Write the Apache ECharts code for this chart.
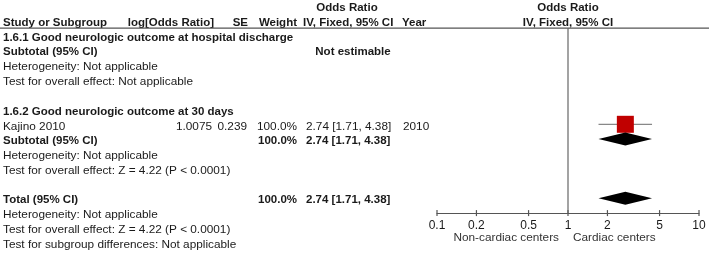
<!DOCTYPE html>
<html>
<head>
<meta charset="utf-8">
<script src="https://cdn.jsdelivr.net/npm/echarts@6/dist/echarts.min.js"></script>
<style>
html, body { margin: 0; padding: 0; background: #fff; }
#main { width: 709px; height: 253px; }
</style>
</head>
<body>
<div id="main"></div>
<script>
// study rows
var studyNames = ['Kajino 2010'];
var studyLogOR = ['1.0075'];
var studySE = ['0.239'];
var studyWeight = ['100.0%'];
var studyYear = ['2010'];
var studyOR = [2.74];
var studyLow = [1.71];
var studyHigh = [4.38];
var studyRow = [6];

// pooled rows (subtotal 1.6.2 and total)
var pooledOR = [2.74, 2.74];
var pooledLow = [1.71, 1.71];
var pooledHigh = [4.38, 4.38];
var pooledRow = [7, 11];

var tickValues = [0.1, 0.2, 0.5, 1, 2, 5, 10];
var favoursLeft = 'Non-cardiac centers';
var favoursRight = 'Cardiac centers';

// text lines of the table: [row, text, bold]
var labelLines = [
    [0, '1.6.1 Good neurologic outcome at hospital discharge', true],
    [1, 'Subtotal (95% CI)', true],
    [2, 'Heterogeneity: Not applicable', false],
    [3, 'Test for overall effect: Not applicable', false],
    [5, '1.6.2 Good neurologic outcome at 30 days', true],
    [6, 'Kajino 2010', false],
    [7, 'Subtotal (95% CI)', true],
    [8, 'Heterogeneity: Not applicable', false],
    [9, 'Test for overall effect: Z = 4.22 (P < 0.0001)', false],
    [11, 'Total (95% CI)', true],
    [12, 'Heterogeneity: Not applicable', false],
    [13, 'Test for overall effect: Z = 4.22 (P < 0.0001)', false],
    [14, 'Test for subgroup differences: Not applicable', false]
];

function fmtCI(o, l, h) {
    return o.toFixed(2) + ' [' + l.toFixed(2) + ', ' + h.toFixed(2) + ']';
}

var myChart = echarts.init(document.getElementById('main'));

var studyData = [];
for (var i = 0; i < studyOR.length; i++) {
    studyData.push([studyOR[i], studyRow[i], studyLow[i], studyHigh[i]]);
}
var pooledData = [];
for (var j = 0; j < pooledOR.length; j++) {
    pooledData.push([pooledOR[j], pooledRow[j], pooledLow[j], pooledHigh[j]]);
}
var tickData = tickValues.map(function (v) { return [v, 12]; });

var axisColor = '#555';
var textColor = '#1a1a1a';
var FONT = 'Liberation Sans, Arial, sans-serif';
var BOLD_SIZE = 11.5;
var REG_SIZE = 11.8;

myChart.setOption({
    animation: false,
    grid: { left: 437, right: 10, top: 28.1, bottom: 39.9 },
    xAxis: {
        type: 'log',
        logBase: 10,
        min: 0.1,
        max: 10,
        axisLine: { onZero: false, lineStyle: { color: axisColor, width: 1.2 } },
        axisTick: { show: false },
        axisLabel: {
            customValues: tickValues,
            color: textColor,
            fontSize: 12,
            fontFamily: FONT,
            margin: 7,
            formatter: function (v) { return String(+(+v).toPrecision(3)); }
        },
        splitLine: { show: false },
        minorTick: { show: false }
    },
    yAxis: {
        type: 'value',
        min: -0.5,
        max: 12,
        inverse: true,
        show: false
    },
    series: [{
        // line of no effect
        type: 'line',
        data: [[1, -0.5], [1, 12]],
        symbol: 'none',
        lineStyle: { color: '#666', width: 1.2 },
        silent: true
    }, {
        // ticks crossing the axis line
        type: 'custom',
        data: tickData,
        silent: true,
        renderItem: function (params, api) {
            var p = api.coord([api.value(0), api.value(1)]);
            return {
                type: 'line',
                shape: { x1: p[0], y1: p[1] - 3, x2: p[0], y2: p[1] + 3 },
                style: { stroke: axisColor, lineWidth: 1.2 }
            };
        }
    }, {
        type: 'custom',
        data: studyData,
        encode: { x: [0, 2, 3], y: 1 },
        renderItem: function (params, api) {
            var c = api.coord([api.value(0), api.value(1)]);
            var lo = api.coord([api.value(2), api.value(1)]);
            var hi = api.coord([api.value(3), api.value(1)]);
            var s = 17;
            return {
                type: 'group',
                children: [{
                    type: 'line',
                    shape: { x1: lo[0], y1: c[1], x2: hi[0], y2: c[1] },
                    style: { stroke: '#888', lineWidth: 1.3 }
                }, {
                    type: 'rect',
                    shape: { x: c[0] - s / 2, y: c[1] - s / 2, width: s, height: s },
                    style: { fill: '#c00000' }
                }]
            };
        }
    }, {
        type: 'custom',
        data: pooledData,
        encode: { x: [0, 2, 3], y: 1 },
        renderItem: function (params, api) {
            var c = api.coord([api.value(0), api.value(1)]);
            var lo = api.coord([api.value(2), api.value(1)]);
            var hi = api.coord([api.value(3), api.value(1)]);
            var h = 6.5;
            return {
                type: 'polygon',
                shape: { points: [[lo[0], c[1]], [c[0], c[1] - h], [hi[0], c[1]], [c[0], c[1] + h]] },
                style: { fill: '#000' }
            };
        }
    }]
});

// table text, placed on the rows of the y scale
function rowY(r) { return myChart.convertToPixel({ yAxisIndex: 0 }, r); }
function txt(x, r, s, bold, align) {
    return {
        type: 'text', x: x, y: rowY(r) + 2, silent: true,
        style: {
            text: s, fill: textColor, textAlign: align || 'left', textVerticalAlign: 'middle',
            font: bold ? ('bold ' + BOLD_SIZE + 'px ' + FONT) : (REG_SIZE + 'px ' + FONT)
        }
    };
}

var els = [];
// headers
els.push(txt(3, -1, 'Study or Subgroup', true));
els.push(txt(214, -1, 'log[Odds Ratio]', true, 'right'));
els.push(txt(248, -1, 'SE', true, 'right'));
els.push(txt(297, -1, 'Weight', true, 'right'));
els.push(txt(347, -2, 'Odds Ratio', true, 'center'));
els.push(txt(303, -1, 'IV, Fixed, 95% CI', true));
els.push(txt(402, -1, 'Year', true));
els.push(txt(568, -2, 'Odds Ratio', true, 'center'));
els.push(txt(568, -1, 'IV, Fixed, 95% CI', true, 'center'));

labelLines.forEach(function (l) { els.push(txt(3, l[0], l[1], l[2])); });

els.push(txt(353, 1, 'Not estimable', true, 'center'));
for (var k = 0; k < studyOR.length; k++) {
    els.push(txt(212, studyRow[k], studyLogOR[k], false, 'right'));
    els.push(txt(247, studyRow[k], studySE[k], false, 'right'));
    els.push(txt(297, studyRow[k], studyWeight[k], false, 'right'));
    els.push(txt(306, studyRow[k], fmtCI(studyOR[k], studyLow[k], studyHigh[k]), false));
    els.push(txt(403, studyRow[k], studyYear[k], false));
}
for (var m = 0; m < pooledOR.length; m++) {
    els.push(txt(297, pooledRow[m], '100.0%', true, 'right'));
    els.push(txt(306, pooledRow[m], fmtCI(pooledOR[m], pooledLow[m], pooledHigh[m]), true));
}

// header rule
var yTop = rowY(-0.5);
els.push({ type: 'line', silent: true, shape: { x1: 0, y1: yTop, x2: 709, y2: yTop }, style: { stroke: axisColor, lineWidth: 1.2 } });

// favours labels either side of the line of no effect
var x1 = myChart.convertToPixel({ xAxisIndex: 0 }, 1);
els.push({ type: 'text', x: x1 - 9, y: 238, silent: true, style: { text: favoursLeft, fill: '#333', textAlign: 'right', textVerticalAlign: 'middle', font: REG_SIZE + 'px ' + FONT } });
els.push({ type: 'text', x: x1 + 5, y: 238, silent: true, style: { text: favoursRight, fill: '#333', textAlign: 'left', textVerticalAlign: 'middle', font: REG_SIZE + 'px ' + FONT } });

myChart.setOption({ graphic: els });
</script>
</body>
</html>
